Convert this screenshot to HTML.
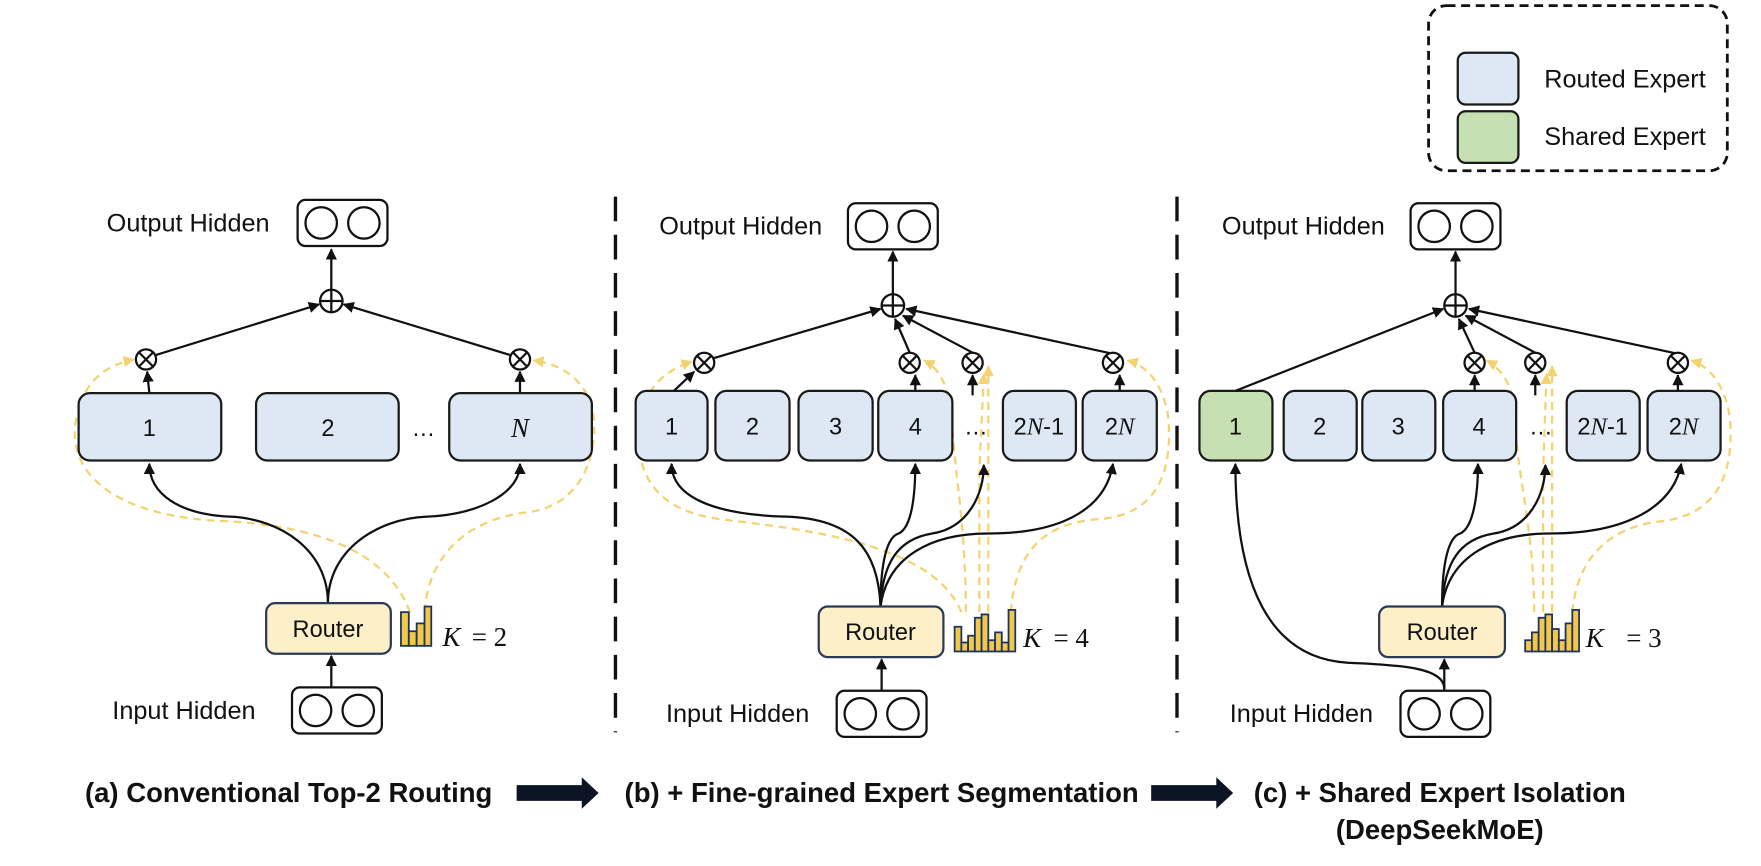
<!DOCTYPE html>
<html><head><meta charset="utf-8"><style>
html,body{margin:0;padding:0;background:#fff;}
svg{display:block;}
text{font-family:"Liberation Sans",sans-serif;fill:#111;}
.lbl{font-size:22.5px;}
.rl{font-size:21px;}
.num{font-size:21px;}
.math{font-family:"Liberation Serif",serif;font-style:italic;font-size:24px;}
.cap{font-weight:bold;font-size:24.5px;}
.exp{fill:#dde8f4;stroke:#1a1a1a;stroke-width:2;}
.rt{fill:#fdf0c9;stroke:#2b3a57;stroke-width:2;}
.bk{fill:none;stroke:#111;stroke-width:2;}
.yd{fill:none;stroke:#f3d270;stroke-width:2;stroke-dasharray:7 5;}
.bar{fill:#f2c84b;stroke:#1f3560;stroke-width:1.6;}
</style></head><body>
<svg width="1761" height="866" viewBox="0 0 1568 771" preserveAspectRatio="none" xmlns="http://www.w3.org/2000/svg">
<defs>
<marker id="ar" viewBox="0 0 10 10" refX="9" refY="5" markerWidth="5" markerHeight="5" orient="auto"><path d="M0,0 L10,5 L0,10 z" fill="#111"/></marker>
<marker id="ay" viewBox="0 0 10 10" refX="9" refY="5" markerWidth="5" markerHeight="5" orient="auto"><path d="M0,0 L10,5 L0,10 z" fill="#f3d270"/></marker>
<g id="hid"><rect x="0" y="0" width="80" height="41" rx="7" fill="#fff" stroke="#111" stroke-width="2"/><circle cx="21" cy="20.5" r="14" fill="none" stroke="#111" stroke-width="2"/><circle cx="59" cy="20.5" r="14" fill="none" stroke="#111" stroke-width="2"/></g>
<g id="plus"><circle r="10" fill="#fff" stroke="#111" stroke-width="2"/><path d="M-10,0 H10 M0,-10 V10" stroke="#111" stroke-width="2"/></g>
<g id="tim"><circle r="9" fill="#fff" stroke="#111" stroke-width="2"/><path d="M-6.4,-6.4 L6.4,6.4 M-6.4,6.4 L6.4,-6.4" stroke="#111" stroke-width="2"/></g>
</defs>

<!-- legend -->
<rect x="1272" y="5" width="266" height="147" rx="16" fill="none" stroke="#111" stroke-width="2.5" stroke-dasharray="8 5"/>
<rect x="1298" y="47" width="54" height="46" rx="7" class="exp"/>
<rect x="1298" y="99" width="54" height="46" rx="7" fill="#c6e0b4" stroke="#1a1a1a" stroke-width="2"/>
<text x="1375" y="78" class="lbl">Routed Expert</text>
<text x="1375" y="129" class="lbl">Shared Expert</text>

<!-- separators -->
<line x1="548" y1="175" x2="548" y2="652" stroke="#111" stroke-width="3" stroke-dasharray="22 12"/>
<line x1="1048" y1="175" x2="1048" y2="652" stroke="#111" stroke-width="3" stroke-dasharray="22 12"/>

<!-- ===== Panel A ===== -->
<text x="95" y="206" class="lbl">Output Hidden</text>
<use href="#hid" x="265" y="178"/>
<line x1="295" y1="258" x2="295" y2="222" class="bk" marker-end="url(#ar)"/>
<path d="M68,372 C58,420 100,460 200,464 C280,468 345,490 365,545" class="yd"/>
<path d="M70,372 C72,340 95,325 119,320" class="yd" marker-end="url(#ay)"/>
<path d="M378,545 C382,490 420,462 470,456 C520,450 535,400 527,362 C520,338 500,324 475,321" class="yd" marker-end="url(#ay)"/>
<path d="M292,537 C292,490 250,462 205,460 C160,458 133,440 133,413" class="bk" marker-end="url(#ar)"/>
<path d="M292,537 C292,490 335,462 380,460 C425,458 463,440 463,413" class="bk" marker-end="url(#ar)"/>
<rect x="70" y="350" width="127" height="60" rx="10" class="exp"/>
<rect x="228" y="350" width="127" height="60" rx="10" class="exp"/>
<rect x="400" y="350" width="127" height="60" rx="10" class="exp"/>
<text x="133" y="388" class="num" text-anchor="middle">1</text>
<text x="292" y="388" class="num" text-anchor="middle">2</text>
<text x="377" y="388" class="num" text-anchor="middle">…</text>
<text x="463" y="389" class="math" text-anchor="middle">N</text>
<line x1="133" y1="350" x2="131" y2="331" class="bk" marker-end="url(#ar)"/>
<line x1="463" y1="350" x2="463" y2="331" class="bk" marker-end="url(#ar)"/>
<line x1="139" y1="316" x2="284" y2="271" class="bk" marker-end="url(#ar)"/>
<line x1="454" y1="316" x2="306" y2="271" class="bk" marker-end="url(#ar)"/>
<use href="#tim" x="130" y="320"/>
<use href="#tim" x="463" y="320"/>
<use href="#plus" x="295" y="268"/>
<rect x="237" y="537" width="111" height="45" rx="8" class="rt"/>
<text x="292" y="567" class="rl" text-anchor="middle">Router</text>
<g class="bar"><rect x="357" y="545" width="7" height="30"/><rect x="364" y="562" width="7" height="13"/><rect x="371" y="555" width="7" height="20"/><rect x="378" y="540" width="6" height="35"/></g>
<text x="394" y="575" class="math">K</text><text x="420" y="575" class="math" style="font-style:normal">= 2</text>
<line x1="295" y1="612" x2="295" y2="584" class="bk" marker-end="url(#ar)"/>
<text x="100" y="640" class="lbl">Input Hidden</text>
<use href="#hid" x="260" y="612"/>

<!-- ===== Panel B ===== -->
<text x="587" y="209" class="lbl">Output Hidden</text>
<use href="#hid" x="755" y="181"/>
<line x1="795" y1="262" x2="795" y2="224" class="bk" marker-end="url(#ar)"/>
<path d="M856,545 C830,480 700,470 640,462 C590,455 570,430 568,390 C568,350 590,330 616,322" class="yd" marker-end="url(#ay)"/>
<path d="M860,545 C860,470 850,420 848,380 C846,350 840,330 823,321" class="yd" marker-end="url(#ay)"/>
<path d="M872,545 L872,420 L876,333" class="yd" marker-end="url(#ay)"/>
<path d="M880,545 L880,326" class="yd" marker-end="url(#ay)"/>
<path d="M900,545 C905,480 940,465 980,462 C1030,458 1045,420 1040,370 C1035,340 1020,325 1004,321" class="yd" marker-end="url(#ay)"/>
<path d="M784,540 C782,490 760,462 700,460 C630,458 598,440 598,413" class="bk" marker-end="url(#ar)"/>
<path d="M784,540 C784,500 790,478 800,475 C812,470 815,440 815,413" class="bk" marker-end="url(#ar)"/>
<path d="M784,540 C786,500 800,480 830,475 C862,470 876,440 876,414" class="bk" marker-end="url(#ar)"/>
<path d="M784,540 C790,495 830,475 880,475 C950,475 985,450 991,413" class="bk" marker-end="url(#ar)"/>
<rect x="566" y="348" width="64" height="62" rx="10" class="exp"/>
<rect x="637" y="348" width="66" height="62" rx="10" class="exp"/>
<rect x="711" y="348" width="66" height="62" rx="10" class="exp"/>
<rect x="782" y="348" width="66" height="62" rx="10" class="exp"/>
<rect x="893" y="348" width="65" height="62" rx="10" class="exp"/>
<rect x="964" y="348" width="66" height="62" rx="10" class="exp"/>
<text x="598" y="387" class="num" text-anchor="middle">1</text>
<text x="670" y="387" class="num" text-anchor="middle">2</text>
<text x="744" y="387" class="num" text-anchor="middle">3</text>
<text x="815" y="387" class="num" text-anchor="middle">4</text>
<text x="869" y="387" class="num" text-anchor="middle">…</text>
<text x="925" y="387" class="num" text-anchor="middle">2<tspan class="math" style="font-size:22px">N</tspan>-1</text>
<text x="997" y="387" class="num" text-anchor="middle">2<tspan class="math" style="font-size:22px">N</tspan></text>
<line x1="600" y1="348" x2="618" y2="331" class="bk" marker-end="url(#ar)"/>
<line x1="815" y1="348" x2="815" y2="334" class="bk" marker-end="url(#ar)"/>
<line x1="866" y1="352" x2="866" y2="334" class="bk" marker-end="url(#ar)"/>
<line x1="997" y1="348" x2="997" y2="334" class="bk" marker-end="url(#ar)"/>
<line x1="635" y1="319" x2="784" y2="275" class="bk" marker-end="url(#ar)"/>
<line x1="810" y1="314" x2="797" y2="284" class="bk" marker-end="url(#ar)"/>
<line x1="866" y1="314" x2="804" y2="281" class="bk" marker-end="url(#ar)"/>
<line x1="991" y1="315" x2="807" y2="275" class="bk" marker-end="url(#ar)"/>
<use href="#tim" x="627" y="323"/>
<use href="#tim" x="810" y="323"/>
<use href="#tim" x="866" y="323"/>
<use href="#tim" x="991" y="323"/>
<use href="#plus" x="795" y="272"/>
<rect x="729" y="540" width="111" height="45" rx="8" class="rt"/>
<text x="784" y="570" class="rl" text-anchor="middle">Router</text>
<g class="bar"><rect x="850" y="558" width="6" height="22"/><rect x="856" y="572" width="6" height="8"/><rect x="862" y="566" width="6" height="14"/><rect x="868" y="550" width="6" height="30"/><rect x="874" y="547" width="6" height="33"/><rect x="880" y="570" width="6" height="10"/><rect x="886" y="563" width="6" height="17"/><rect x="892" y="572" width="6" height="8"/><rect x="898" y="543" width="6" height="37"/></g>
<text x="911" y="576" class="math">K</text><text x="938" y="576" class="math" style="font-style:normal">= 4</text>
<line x1="785" y1="615" x2="785" y2="587" class="bk" marker-end="url(#ar)"/>
<text x="593" y="643" class="lbl">Input Hidden</text>
<use href="#hid" x="745" y="615"/>

<!-- ===== Panel C ===== -->
<text x="1088" y="209" class="lbl">Output Hidden</text>
<use href="#hid" x="1256" y="181"/>
<line x1="1296" y1="262" x2="1296" y2="224" class="bk" marker-end="url(#ar)"/>
<path d="M1366,545 C1366,470 1350,420 1350,380 C1350,350 1340,330 1324,321" class="yd" marker-end="url(#ay)"/>
<path d="M1374,545 L1374,420 L1377,333" class="yd" marker-end="url(#ay)"/>
<path d="M1382,545 L1382,326" class="yd" marker-end="url(#ay)"/>
<path d="M1400,545 C1405,490 1440,468 1480,464 C1530,458 1545,420 1540,370 C1535,340 1520,325 1506,321" class="yd" marker-end="url(#ay)"/>
<path d="M1286,613 C1286,595 1250,592 1200,590 C1130,586 1100,520 1100,413" class="bk" marker-end="url(#ar)"/>
<path d="M1284,540 C1284,500 1290,478 1300,475 C1312,470 1316,440 1316,413" class="bk" marker-end="url(#ar)"/>
<path d="M1284,540 C1286,500 1300,480 1330,475 C1362,470 1376,440 1376,414" class="bk" marker-end="url(#ar)"/>
<path d="M1284,540 C1290,495 1330,475 1380,475 C1450,475 1490,450 1497,413" class="bk" marker-end="url(#ar)"/>
<rect x="1068" y="348" width="65" height="62" rx="10" fill="#c6e0b4" stroke="#1a1a1a" stroke-width="2"/>
<rect x="1143" y="348" width="65" height="62" rx="10" class="exp"/>
<rect x="1213" y="348" width="65" height="62" rx="10" class="exp"/>
<rect x="1285" y="348" width="65" height="62" rx="10" class="exp"/>
<rect x="1395" y="348" width="65" height="62" rx="10" class="exp"/>
<rect x="1467" y="348" width="65" height="62" rx="10" class="exp"/>
<text x="1100" y="387" class="num" text-anchor="middle">1</text>
<text x="1175" y="387" class="num" text-anchor="middle">2</text>
<text x="1245" y="387" class="num" text-anchor="middle">3</text>
<text x="1317" y="387" class="num" text-anchor="middle">4</text>
<text x="1372" y="387" class="num" text-anchor="middle">…</text>
<text x="1427" y="387" class="num" text-anchor="middle">2<tspan class="math" style="font-size:22px">N</tspan>-1</text>
<text x="1499" y="387" class="num" text-anchor="middle">2<tspan class="math" style="font-size:22px">N</tspan></text>
<line x1="1313" y1="348" x2="1313" y2="334" class="bk" marker-end="url(#ar)"/>
<line x1="1367" y1="352" x2="1367" y2="334" class="bk" marker-end="url(#ar)"/>
<line x1="1494" y1="348" x2="1494" y2="334" class="bk" marker-end="url(#ar)"/>
<line x1="1100" y1="348" x2="1285" y2="275" class="bk" marker-end="url(#ar)"/>
<line x1="1313" y1="314" x2="1299" y2="284" class="bk" marker-end="url(#ar)"/>
<line x1="1367" y1="314" x2="1305" y2="281" class="bk" marker-end="url(#ar)"/>
<line x1="1494" y1="315" x2="1308" y2="275" class="bk" marker-end="url(#ar)"/>
<use href="#tim" x="1313" y="323"/>
<use href="#tim" x="1367" y="323"/>
<use href="#tim" x="1494" y="323"/>
<use href="#plus" x="1296" y="272"/>
<rect x="1228" y="540" width="112" height="45" rx="8" class="rt"/>
<text x="1284" y="570" class="rl" text-anchor="middle">Router</text>
<g class="bar"><rect x="1358" y="570" width="6" height="10"/><rect x="1364" y="563" width="6" height="17"/><rect x="1370" y="550" width="6" height="30"/><rect x="1376" y="547" width="6" height="33"/><rect x="1382" y="560" width="6" height="20"/><rect x="1388" y="570" width="6" height="10"/><rect x="1394" y="555" width="6" height="25"/><rect x="1400" y="543" width="6" height="37"/></g>
<text x="1412" y="576" class="math">K</text><text x="1448" y="576" class="math" style="font-style:normal">= 3</text>
<line x1="1286" y1="615" x2="1286" y2="587" class="bk" marker-end="url(#ar)"/>
<text x="1095" y="643" class="lbl">Input Hidden</text>
<use href="#hid" x="1247" y="615"/>

<!-- captions -->
<text x="257" y="714" class="cap" text-anchor="middle">(a) Conventional Top-2 Routing</text>
<text x="785" y="714" class="cap" text-anchor="middle">(b) + Fine-grained Expert Segmentation</text>
<text x="1282" y="714" class="cap" text-anchor="middle">(c) + Shared Expert Isolation</text>
<text x="1282" y="747" class="cap" text-anchor="middle">(DeepSeekMoE)</text>
<path d="M460,699 H518 V692 L533,706 L518,720 V713 H460 Z" fill="#0d1424"/>
<path d="M1025,699 H1083 V692 L1098,706 L1083,720 V713 H1025 Z" fill="#0d1424"/>
</svg>
</body></html>
